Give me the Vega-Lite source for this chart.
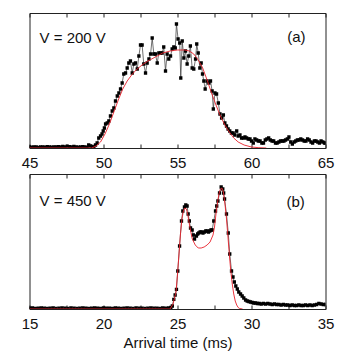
{
  "$schema": "https://vega.github.io/schema/vega-lite/v6.json",
  "background": "white",
  "padding": {"left": 20.5, "top": 12, "right": 5, "bottom": 0},
  "spacing": 2,
  "config": {
    "font": "Liberation Sans",
    "view": {"stroke": "#222", "strokeWidth": 1},
    "axis": {"labelFont": "Liberation Sans", "labelFontSize": 15, "labelColor": "#111", "tickColor": "#222", "tickWidth": 1, "domain": false, "grid": false, "titleFont": "Liberation Sans", "titleFontSize": 15, "titleFontWeight": "normal", "titleColor": "#111"}
  },
  "datasets": {
    "topData": [
      {"t":45.0,"v":1},{"t":45.15,"v":0.8},{"t":45.3,"v":1.2},{"t":45.45,"v":1},{"t":45.6,"v":0.6},{"t":45.75,"v":1.1},{"t":45.9,"v":1},{"t":46.05,"v":0.8},{"t":46.2,"v":1.3},{"t":46.35,"v":1},{"t":46.5,"v":0.9},{"t":46.65,"v":1.2},{"t":46.8,"v":1},{"t":46.95,"v":1.4},{"t":47.1,"v":1},{"t":47.25,"v":1.5},{"t":47.4,"v":1.2},{"t":47.55,"v":1.8},{"t":47.7,"v":1.3},{"t":47.85,"v":1},{"t":48.0,"v":1.5},{"t":48.15,"v":1.1},{"t":48.3,"v":0.8},{"t":48.45,"v":1.2},{"t":48.6,"v":1.4},{"t":48.75,"v":1},{"t":48.9,"v":0.5},
      {"t":49.0,"v":3},{"t":49.12,"v":2},{"t":49.23,"v":1.5},{"t":49.35,"v":1},{"t":49.46,"v":3},{"t":49.57,"v":5},{"t":49.68,"v":10},{"t":49.8,"v":12},{"t":49.9,"v":14},{"t":49.98,"v":17},{"t":50.06,"v":20},{"t":50.14,"v":24},{"t":50.25,"v":25},{"t":50.36,"v":27},{"t":50.47,"v":32},{"t":50.59,"v":37},{"t":50.7,"v":40},{"t":50.81,"v":47},{"t":50.93,"v":52},{"t":51.04,"v":55},{"t":51.15,"v":59},{"t":51.26,"v":65},{"t":51.37,"v":74},{"t":51.49,"v":75},{"t":51.6,"v":80},{"t":51.71,"v":85},{"t":51.82,"v":87},{"t":51.94,"v":75},{"t":52.05,"v":84},{"t":52.16,"v":85},{"t":52.28,"v":79},{"t":52.39,"v":92},{"t":52.5,"v":103},{"t":52.61,"v":103},{"t":52.72,"v":84},{"t":52.84,"v":75},{"t":52.95,"v":85},{"t":53.07,"v":89},{"t":53.18,"v":94},{"t":53.29,"v":110},{"t":53.4,"v":94},{"t":53.51,"v":94},{"t":53.63,"v":85},{"t":53.74,"v":95},{"t":53.85,"v":95},{"t":53.96,"v":95},{"t":54.07,"v":101},{"t":54.19,"v":77},{"t":54.3,"v":94},{"t":54.41,"v":89},{"t":54.53,"v":92},{"t":54.64,"v":99},{"t":54.75,"v":101},{"t":54.85,"v":100},{"t":54.93,"v":124},{"t":55.04,"v":109},{"t":55.15,"v":105},{"t":55.22,"v":70},{"t":55.32,"v":107},{"t":55.43,"v":90},{"t":55.54,"v":97},{"t":55.65,"v":84},{"t":55.76,"v":92},{"t":55.87,"v":102},{"t":55.99,"v":80},{"t":56.1,"v":79},{"t":56.22,"v":89},{"t":56.3,"v":104},{"t":56.4,"v":95},{"t":56.51,"v":80},{"t":56.6,"v":85},{"t":56.69,"v":74},{"t":56.78,"v":67},{"t":56.87,"v":59},{"t":57.0,"v":67},{"t":57.12,"v":65},{"t":57.23,"v":67},{"t":57.34,"v":57},{"t":57.42,"v":39},{"t":57.53,"v":55},{"t":57.64,"v":54},{"t":57.76,"v":45},{"t":57.87,"v":34},{"t":57.98,"v":30},{"t":58.1,"v":33},{"t":58.2,"v":25},{"t":58.31,"v":22},{"t":58.42,"v":19},{"t":58.53,"v":17},{"t":58.64,"v":15},{"t":58.76,"v":15},{"t":58.87,"v":13},{"t":59.0,"v":17},{"t":59.1,"v":12},{"t":59.22,"v":13},{"t":59.33,"v":10},{"t":59.45,"v":10},{"t":59.56,"v":11},{"t":59.67,"v":10},{"t":59.78,"v":9},{"t":59.9,"v":9},{"t":60.0,"v":7},{"t":60.12,"v":5},{"t":60.23,"v":9},{"t":60.35,"v":8},{"t":60.46,"v":7},{"t":60.58,"v":7},{"t":60.7,"v":5},{"t":60.81,"v":5},{"t":60.93,"v":8},{"t":61.04,"v":9},{"t":61.16,"v":10},{"t":61.27,"v":8},{"t":61.39,"v":7},{"t":61.5,"v":7},{"t":61.62,"v":5},{"t":61.73,"v":5},{"t":61.85,"v":6},{"t":61.96,"v":7},{"t":62.08,"v":7},{"t":62.19,"v":7},{"t":62.3,"v":8},{"t":62.42,"v":9},{"t":62.53,"v":11},{"t":62.65,"v":6},{"t":62.76,"v":4},{"t":62.88,"v":6},{"t":62.99,"v":7},{"t":63.1,"v":8},{"t":63.22,"v":8},{"t":63.33,"v":9},{"t":63.45,"v":8},{"t":63.56,"v":7},{"t":63.68,"v":7},{"t":63.79,"v":9},{"t":63.9,"v":8},{"t":64.02,"v":6},{"t":64.13,"v":5},{"t":64.25,"v":7},{"t":64.36,"v":7},{"t":64.48,"v":6},{"t":64.59,"v":5},{"t":64.7,"v":7},{"t":64.82,"v":6},{"t":64.93,"v":5},{"t":65.0,"v":5}
    ],
    "topFit": [
      {"t":45,"v":0},{"t":49.2,"v":0},{"t":49.5,"v":2},{"t":49.8,"v":6},{"t":50.1,"v":14},{"t":50.4,"v":24},{"t":50.7,"v":36},{"t":51.0,"v":48},{"t":51.3,"v":59},{"t":51.6,"v":67},{"t":51.9,"v":73},{"t":52.2,"v":78},{"t":52.6,"v":83},{"t":53.0,"v":87},{"t":53.5,"v":91},{"t":54.0,"v":95},{"t":54.5,"v":97},{"t":55.0,"v":98},{"t":55.5,"v":98},{"t":55.8,"v":97},{"t":56.1,"v":94},{"t":56.4,"v":88},{"t":56.7,"v":80},{"t":57.0,"v":68},{"t":57.3,"v":55},{"t":57.6,"v":43},{"t":57.9,"v":32},{"t":58.2,"v":23},{"t":58.5,"v":16},{"t":58.8,"v":10},{"t":59.1,"v":6},{"t":59.5,"v":3},{"t":60.0,"v":1},{"t":60.5,"v":0.3},{"t":61.0,"v":0}
    ],
    "botData": [
      {"t":15.0,"v":0.8},{"t":15.2,"v":1},{"t":15.4,"v":0.7},{"t":15.6,"v":0.9},{"t":15.8,"v":1.1},{"t":16.0,"v":0.8},{"t":16.2,"v":0.6},{"t":16.4,"v":0.9},{"t":16.6,"v":1},{"t":16.8,"v":0.7},{"t":17.0,"v":0.9},{"t":17.2,"v":1.1},{"t":17.4,"v":0.8},{"t":17.6,"v":0.7},{"t":17.8,"v":1},{"t":18.0,"v":0.9},{"t":18.2,"v":0.6},{"t":18.4,"v":0.8},{"t":18.6,"v":1},{"t":18.8,"v":0.9},{"t":19.0,"v":0.7},{"t":19.2,"v":0.8},{"t":19.4,"v":1.1},{"t":19.6,"v":0.9},{"t":19.8,"v":0.7},{"t":20.0,"v":1.2},{"t":20.2,"v":0.8},{"t":20.4,"v":0.9},{"t":20.6,"v":0.7},{"t":20.8,"v":1},{"t":21.0,"v":0.8},{"t":21.2,"v":0.6},{"t":21.4,"v":0.9},{"t":21.6,"v":1},{"t":21.8,"v":0.8},{"t":22.0,"v":0.7},{"t":22.2,"v":1},{"t":22.4,"v":0.9},{"t":22.6,"v":0.8},{"t":22.8,"v":0.6},{"t":23.0,"v":0.9},{"t":23.2,"v":1},{"t":23.4,"v":0.8},{"t":23.6,"v":0.9},{"t":23.8,"v":0.7},{"t":24.0,"v":1},{"t":24.2,"v":0.8},{"t":24.4,"v":1},
      {"t":24.55,"v":1.5},{"t":24.65,"v":3},{"t":24.75,"v":9.7},{"t":24.84,"v":14},{"t":24.93,"v":19.7},{"t":25.02,"v":38},{"t":25.14,"v":63},{"t":25.27,"v":88},{"t":25.36,"v":98},{"t":25.47,"v":102},{"t":25.56,"v":104},{"t":25.65,"v":103},{"t":25.72,"v":95},{"t":25.8,"v":88},{"t":25.88,"v":81},{"t":25.99,"v":79},{"t":26.07,"v":74},{"t":26.15,"v":70},{"t":26.28,"v":73},{"t":26.36,"v":75},{"t":26.44,"v":76},{"t":26.53,"v":77},{"t":26.62,"v":77},{"t":26.72,"v":76},{"t":26.82,"v":77},{"t":26.91,"v":78},{"t":27.0,"v":78},{"t":27.09,"v":77},{"t":27.18,"v":78},{"t":27.26,"v":79},{"t":27.34,"v":79},{"t":27.45,"v":88},{"t":27.57,"v":98},{"t":27.65,"v":103},{"t":27.73,"v":108},{"t":27.84,"v":116},{"t":27.95,"v":122},{"t":28.06,"v":120},{"t":28.12,"v":116},{"t":28.18,"v":110},{"t":28.31,"v":95},{"t":28.43,"v":76},{"t":28.53,"v":55},{"t":28.65,"v":38},{"t":28.75,"v":32},{"t":28.84,"v":27},{"t":28.94,"v":23},{"t":29.04,"v":20},{"t":29.14,"v":17},{"t":29.26,"v":15},{"t":29.37,"v":13},{"t":29.48,"v":11},{"t":29.6,"v":9},{"t":29.71,"v":8},{"t":29.82,"v":7.5},{"t":29.93,"v":7},{"t":30.05,"v":6.5},{"t":30.16,"v":6},{"t":30.28,"v":6},{"t":30.4,"v":5.5},{"t":30.52,"v":5.5},{"t":30.65,"v":5},{"t":30.8,"v":5.5},{"t":30.95,"v":5},{"t":31.1,"v":5.5},{"t":31.25,"v":5},{"t":31.4,"v":4.5},{"t":31.55,"v":5},{"t":31.7,"v":4.5},{"t":31.85,"v":4.5},{"t":32.0,"v":4},{"t":32.15,"v":4.5},{"t":32.3,"v":4},{"t":32.45,"v":4},{"t":32.6,"v":3.5},{"t":32.75,"v":4},{"t":32.9,"v":3.5},{"t":33.05,"v":3.5},{"t":33.2,"v":4},{"t":33.35,"v":3.5},{"t":33.5,"v":3.5},{"t":33.65,"v":4},{"t":33.8,"v":3.5},{"t":33.95,"v":4},{"t":34.1,"v":3.5},{"t":34.25,"v":4},{"t":34.4,"v":4.5},{"t":34.55,"v":5.5},{"t":34.7,"v":5},{"t":34.85,"v":4.5},{"t":35.0,"v":4.5}
    ],
    "botFit": [
      {"t":15,"v":0},{"t":24.5,"v":0},{"t":24.7,"v":5},{"t":24.9,"v":17},{"t":25.0,"v":35},{"t":25.1,"v":55},{"t":25.2,"v":75},{"t":25.3,"v":90},{"t":25.4,"v":98},{"t":25.5,"v":101},{"t":25.6,"v":100},{"t":25.7,"v":94},{"t":25.8,"v":85},{"t":25.9,"v":77},{"t":26.0,"v":70},{"t":26.2,"v":64},{"t":26.4,"v":61},{"t":26.6,"v":61},{"t":26.8,"v":62},{"t":27.0,"v":64},{"t":27.2,"v":67},{"t":27.4,"v":74},{"t":27.5,"v":82},{"t":27.6,"v":95},{"t":27.7,"v":106},{"t":27.8,"v":115},{"t":27.9,"v":120},{"t":28.0,"v":121},{"t":28.1,"v":117},{"t":28.2,"v":106},{"t":28.3,"v":92},{"t":28.4,"v":74},{"t":28.5,"v":55},{"t":28.6,"v":38},{"t":28.7,"v":25},{"t":28.8,"v":15},{"t":28.9,"v":8},{"t":29.0,"v":4},{"t":29.1,"v":1.5},{"t":29.2,"v":0.5},{"t":29.4,"v":0}
    ]
  },
  "vconcat": [
    {
      "width": 296,
      "height": 135,
      "resolve": {"axis": {"x": "independent"}},
      "layer": [
        {
          "data": {"name": "topData"},
          "mark": {"type": "line", "color": "#333", "strokeWidth": 0.7, "clip": true},
          "encoding": {
            "x": {"field": "t", "type": "quantitative", "scale": {"domain": [45, 65], "nice": false, "zero": false},
              "axis": {"orient": "bottom", "values": [45, 47.5, 50, 52.5, 55, 57.5, 60, 62.5, 65], "labelExpr": "datum.value % 5 === 0 ? datum.label : ''", "tickSize": -4, "labelPadding": 11, "title": null, "labelFlush": false}},
            "y": {"field": "v", "type": "quantitative", "scale": {"domain": [0, 135], "nice": false}, "axis": null}
          }
        },
        {
          "data": {"name": "topData"},
          "mark": {"type": "point", "shape": "square", "filled": true, "size": 11, "color": "#000", "opacity": 1, "clip": true},
          "encoding": {
            "x": {"field": "t", "type": "quantitative", "axis": null},
            "y": {"field": "v", "type": "quantitative", "axis": null}
          }
        },
        {
          "data": {"name": "topFit"},
          "mark": {"type": "line", "color": "#e8202a", "strokeWidth": 0.9, "clip": true},
          "encoding": {
            "x": {"field": "t", "type": "quantitative",
              "axis": {"orient": "top", "values": [45, 47.5, 50, 52.5, 55, 57.5, 60, 62.5, 65], "tickSize": -4, "labels": false, "title": null}},
            "y": {"field": "v", "type": "quantitative", "axis": null}
          }
        },
        {
          "data": {"values": [{"t": 45.68, "v": 110, "label": "V = 200 V"}]},
          "mark": {"type": "text", "align": "left", "baseline": "middle", "fontSize": 15, "font": "Liberation Sans", "color": "#111"},
          "encoding": {
            "x": {"field": "t", "type": "quantitative", "axis": null},
            "y": {"field": "v", "type": "quantitative", "axis": null},
            "text": {"field": "label"}
          }
        },
        {
          "data": {"values": [{"t": 63.65, "v": 111, "label": "(a)"}]},
          "mark": {"type": "text", "align": "right", "baseline": "middle", "fontSize": 15, "font": "Liberation Sans", "color": "#111"},
          "encoding": {
            "x": {"field": "t", "type": "quantitative", "axis": null},
            "y": {"field": "v", "type": "quantitative", "axis": null},
            "text": {"field": "label"}
          }
        }
      ]
    },
    {
      "width": 296,
      "height": 135,
      "resolve": {"axis": {"x": "independent"}},
      "layer": [
        {
          "data": {"name": "botData"},
          "mark": {"type": "line", "color": "#333", "strokeWidth": 0.7, "clip": true},
          "encoding": {
            "x": {"field": "t", "type": "quantitative", "scale": {"domain": [15, 35], "nice": false, "zero": false},
              "axis": {"orient": "bottom", "values": [15, 17.5, 20, 22.5, 25, 27.5, 30, 32.5, 35], "labelExpr": "datum.value % 5 === 0 ? datum.label : ''", "tickSize": -4, "labelPadding": 11, "title": "Arrival time (ms)", "titlePadding": 4, "labelFlush": false}},
            "y": {"field": "v", "type": "quantitative", "scale": {"domain": [0, 135], "nice": false}, "axis": null}
          }
        },
        {
          "data": {"name": "botData"},
          "mark": {"type": "point", "shape": "square", "filled": true, "size": 11, "color": "#000", "opacity": 1, "clip": true},
          "encoding": {
            "x": {"field": "t", "type": "quantitative", "axis": null},
            "y": {"field": "v", "type": "quantitative", "axis": null}
          }
        },
        {
          "data": {"name": "botFit"},
          "mark": {"type": "line", "color": "#e8202a", "strokeWidth": 0.9, "clip": true},
          "encoding": {
            "x": {"field": "t", "type": "quantitative",
              "axis": {"orient": "top", "values": [15, 17.5, 20, 22.5, 25, 27.5, 30, 32.5, 35], "tickSize": -4, "labels": false, "title": null}},
            "y": {"field": "v", "type": "quantitative", "axis": null}
          }
        },
        {
          "data": {"values": [{"t": 15.68, "v": 108, "label": "V = 450 V"}]},
          "mark": {"type": "text", "align": "left", "baseline": "middle", "fontSize": 15, "font": "Liberation Sans", "color": "#111"},
          "encoding": {
            "x": {"field": "t", "type": "quantitative", "axis": null},
            "y": {"field": "v", "type": "quantitative", "axis": null},
            "text": {"field": "label"}
          }
        },
        {
          "data": {"values": [{"t": 33.6, "v": 107, "label": "(b)"}]},
          "mark": {"type": "text", "align": "right", "baseline": "middle", "fontSize": 15, "font": "Liberation Sans", "color": "#111"},
          "encoding": {
            "x": {"field": "t", "type": "quantitative", "axis": null},
            "y": {"field": "v", "type": "quantitative", "axis": null},
            "text": {"field": "label"}
          }
        }
      ]
    }
  ]
}
